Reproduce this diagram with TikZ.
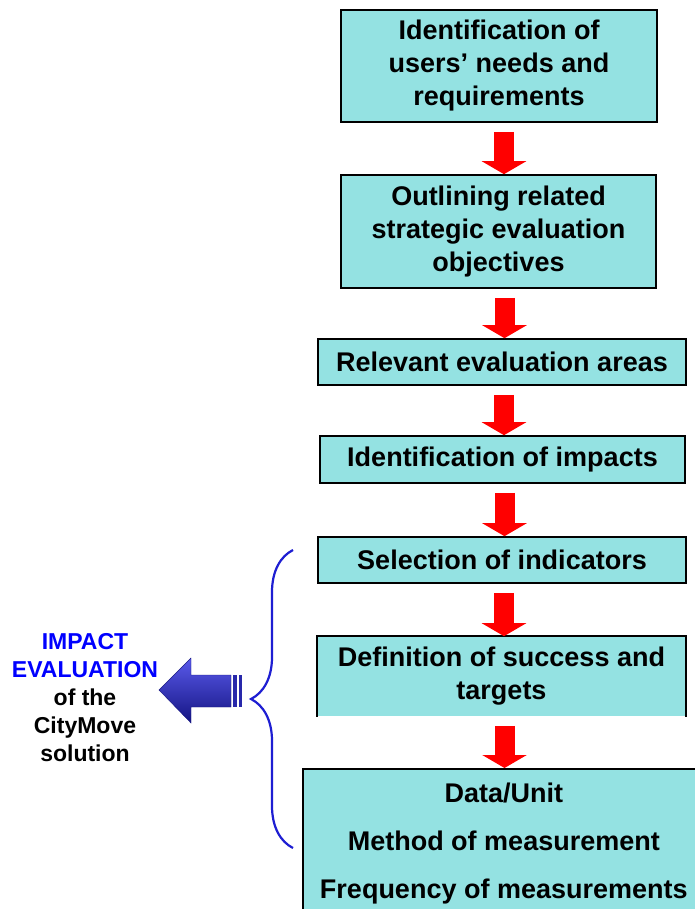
\documentclass[tikz,border=0pt]{standalone}
\usepackage{fontspec}
\setmainfont{Liberation Sans}
\usetikzlibrary{arrows.meta,decorations.pathreplacing}

\definecolor{boxcyan}{RGB}{148,226,226}
\definecolor{arrred}{RGB}{255,0,0}
\definecolor{bracebl}{RGB}{30,30,210}
\definecolor{impblue}{RGB}{0,0,255}
\definecolor{bluelight}{RGB}{90,90,235}
\definecolor{bluedark}{RGB}{20,20,130}
\definecolor{bluemid}{RGB}{40,40,170}

\tikzset{
  stepbox/.style={draw=black, line width=1.6pt, fill=boxcyan, align=center,
    inner sep=0pt, font=\fontsize{27}{33}\selectfont\bfseries},
  downarrow/.style={draw=arrred, line width=20pt,
    -{Triangle[width=44pt,length=13pt]}, arrred, shorten <=9pt}
}

\begin{document}
\begin{tikzpicture}[x=1pt,y=1pt]
		\useasboundingbox[fill=white] (0,0) rectangle (695,-909);

		% boxes
		\node[stepbox, minimum width=316pt, minimum height=112pt] (needs) at (499,-66)
			{Identification of\\users' needs and\\requirements};
		\node[stepbox, minimum width=315pt, minimum height=113pt] (objectives) at (498.5,-231.5)
			{Outlining related\\strategic evaluation\\objectives};
		\node[stepbox, minimum width=368pt, minimum height=46pt] (areas) at (502,-362)
			{Relevant evaluation areas};
		\node[stepbox, minimum width=365pt, minimum height=47pt] (impacts) at (502.5,-459.5)
			{Identification of impacts};
		\node[stepbox, minimum width=368pt, minimum height=46pt] (indicators) at (502,-560)
			{Selection of indicators};
		\node[stepbox, draw=none, minimum width=367pt, minimum height=79pt] (targets) at (501.5,-676.5)
			{Definition of success and\\targets};
		\draw[line width=1.6pt] (targets.south west) -- (targets.north west)
			-- (targets.north east) -- (targets.south east);
		\node[stepbox, minimum width=402pt, minimum height=150pt, anchor=north west,
			font=\fontsize{27}{48}\selectfont\bfseries] (measure) at (302,-768)
			{Data/Unit\\Method of measurement\\Frequency of measurements};

		% red arrows
		\draw[downarrow] ([xshift=5pt]needs.south) -- ([xshift=5pt]needs.south |- objectives.north);
		\draw[downarrow] ([xshift=6pt]objectives.south) -- ([xshift=6pt]objectives.south |- areas.north);
		\draw[downarrow] ([xshift=2pt]areas.south) -- ([xshift=2pt]areas.south |- impacts.north);
		\draw[downarrow] ([xshift=2pt]impacts.south) -- ([xshift=2pt]impacts.south |- indicators.north);
		\draw[downarrow] ([xshift=2pt]indicators.south) -- ([xshift=2pt]indicators.south |- targets.north);
		\draw[downarrow] ([xshift=3pt]targets.south) -- ([xshift=3pt]targets.south |- measure.north);

		% brace over the last three steps
		\coordinate (braceBot) at (293,-848);
		\coordinate (braceTop) at (293,-550);
		\draw[bracebl, line width=2.2pt, decorate, decoration={brace, amplitude=42pt}]
			(braceBot) -- (braceTop);

		% blue arrow
		\shade[top color=bluelight, bottom color=bluedark, draw=bluedark]
			(159,-690) -- (191,-658) -- (191,-675) -- (231,-675) -- (231,-707)
			-- (191,-707) -- (191,-723) -- cycle;
		\fill[bluemid] (233,-675) rectangle (237,-707);
		\fill[bluemid] (239,-675) rectangle (242,-707);

		% label on the left
		\node[align=center, font=\fontsize{23}{28}\selectfont\bfseries] (impact) at (85,-698)
			{\textcolor{impblue}{IMPACT}\\\textcolor{impblue}{EVALUATION}\\of the\\CityMove\\solution};
	\end{tikzpicture}
\end{document}
